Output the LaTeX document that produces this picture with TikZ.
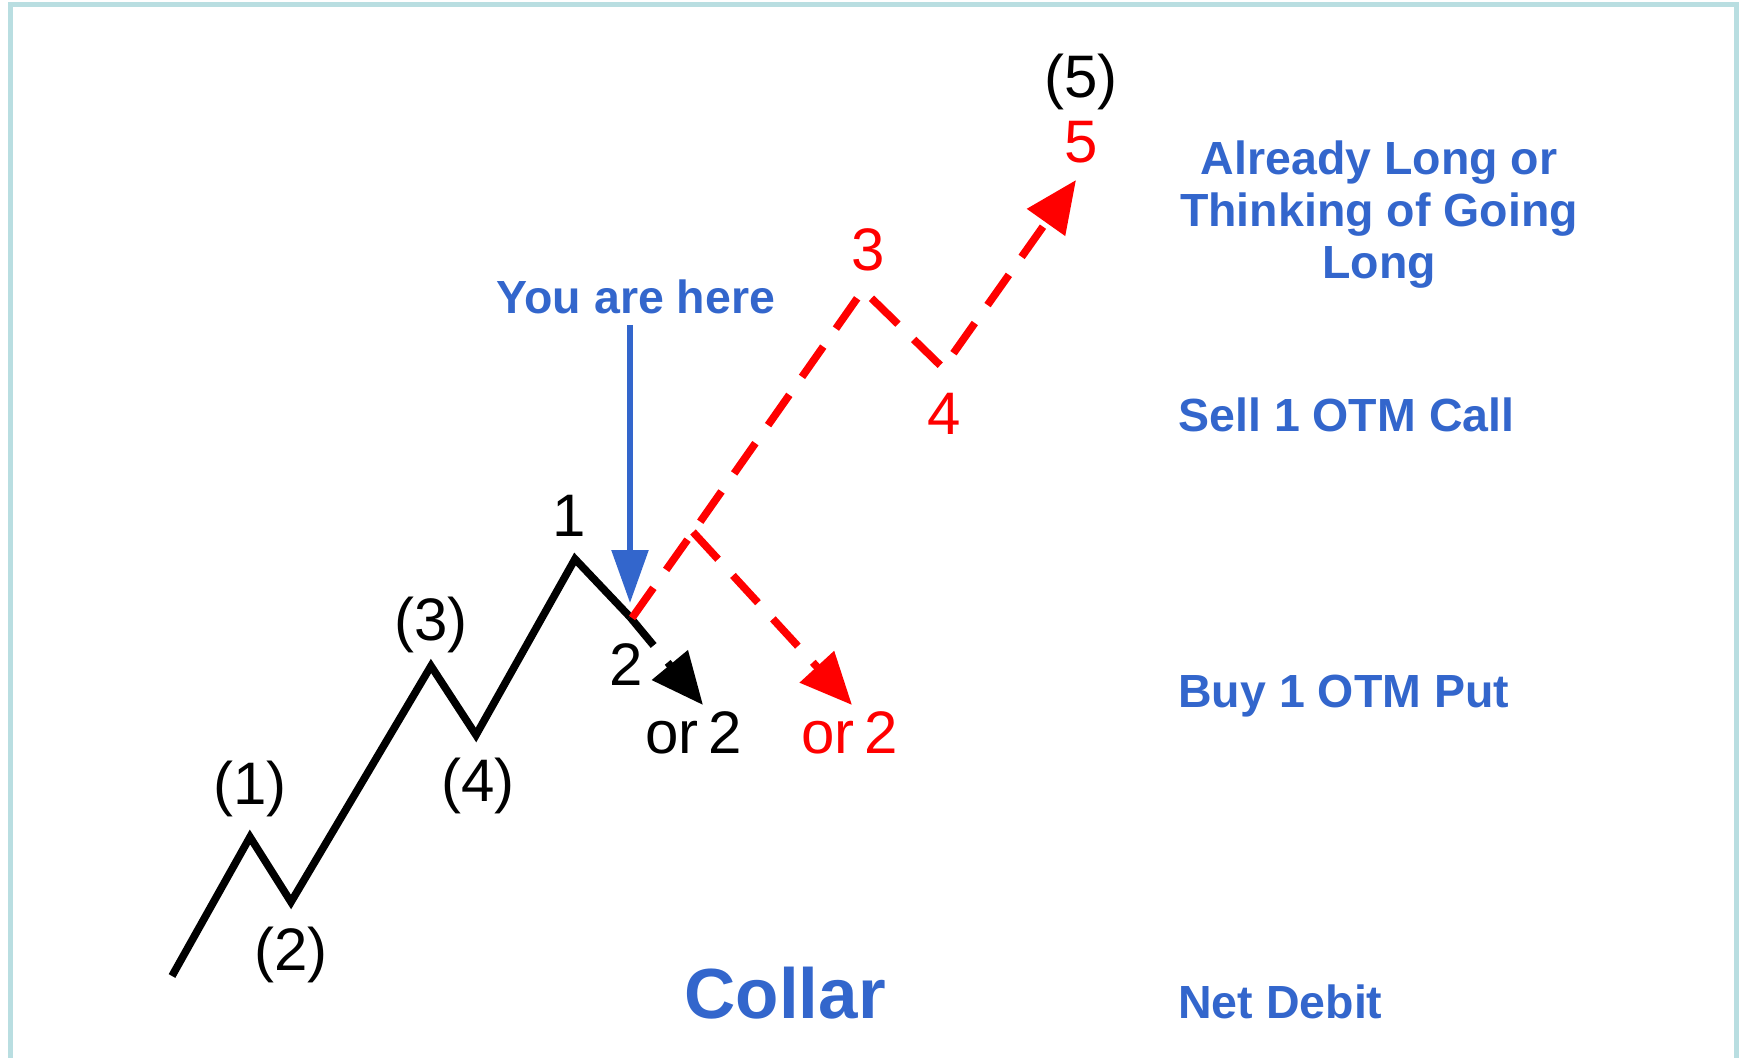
\documentclass[tikz,border=0pt]{standalone}
\usepackage{fontspec}
\setmainfont{Liberation Sans}
\usetikzlibrary{arrows.meta}
\definecolor{lblue}{RGB}{51,102,204}
\definecolor{framec}{RGB}{185,222,225}
\begin{document}
\begin{tikzpicture}[x=0.5pt,y=-0.5pt,
  wave/.style={line width=3.8pt, black},
  redwave/.style={line width=3.8pt, red},
  dsh/.style={dash pattern=on 18.5pt off 11pt},
  tipA/.style={-{Triangle[length=26pt,width=22.5pt]}},
  tipB/.style={-{Triangle[length=26.5pt,width=18pt]}},
  lbl/.style={font=\fontsize{30}{36}\selectfont, inner sep=0pt},
  info/.style={font=\fontsize{23.25}{26}\selectfont\bfseries, text=lblue, inner sep=0pt},
]
\useasboundingbox (0,0) rectangle (1743,1058);
% frame
\draw[framec, line width=2.5pt] (10,1060) -- (10,5) -- (1736,5) -- (1736,1060);

% wave points
\coordinate (s) at (172,976);
\coordinate (p1) at (250,837);
\coordinate (p2) at (291,902);
\coordinate (p3) at (431,666);
\coordinate (p4) at (476,735);
\coordinate (q1) at (575,559);
\coordinate (q2) at (630,617);
\coordinate (bt) at (703,705);
\coordinate (r0) at (632,618);
\coordinate (rb) at (693,532);
\coordinate (r3) at (863,290);
\coordinate (r4) at (943,368);
\coordinate (r5) at (1076,180);
\coordinate (rt) at (852,705);
\coordinate (ys) at (630,325);
\coordinate (ye) at (630,603);

% black wave
\draw[wave] (s) -- (p1) -- (p2) -- (p3) -- (p4) -- (q1) -- (q2);
\draw[wave, dsh, tipA] (q2) -- (bt);

% red wave
\draw[redwave, dsh, tipA] (r0) -- (rb) -- (r3) -- (r4) -- (r5);
\draw[redwave, dsh, tipA] (rb) -- (rt);

% labels
\node[lbl] (l1) at (250,789) {(1)};
\node[lbl] (l2) at (291,955) {(2)};
\node[lbl] (l3) at (431,625) {(3)};
\node[lbl] (l4) at (478,786) {(4)};
\node[lbl] (n1) at (569,516) {1};
\node[lbl] (n2) at (626,665) {2};
\node[lbl, anchor=base west] (or1) at (645,753) {or\,2};
\node[lbl, text=red, anchor=base west] (or2) at (801,753) {or\,2};
\node[lbl, text=red] (n3) at (868,250) {3};
\node[lbl, text=red] (n4) at (944,414) {4};
\node[lbl, text=red] (n5) at (1081,142) {5};
\node[lbl] (l5) at (1081,82) {(5)};

% blue
\node[info, anchor=base] (yah) at (636,314) {You are here};
\draw[lblue, line width=2.8pt, tipB] (ys) -- (ye);

\node[info, align=center, anchor=north] (already) at (1379,140) {Already Long or\\Thinking of Going\\Long};
\node[info, anchor=base west] (sell) at (1178,432) {Sell 1 OTM Call};
\node[info, anchor=base west] (buy) at (1178,707) {Buy 1 OTM Put};
\node[info, anchor=base west] (debit) at (1178,1018) {Net Debit};
\node[info, font=\fontsize{35.5}{40}\selectfont\bfseries, anchor=base] (collar) at (785,1018) {Collar};
\end{tikzpicture}
\end{document}
